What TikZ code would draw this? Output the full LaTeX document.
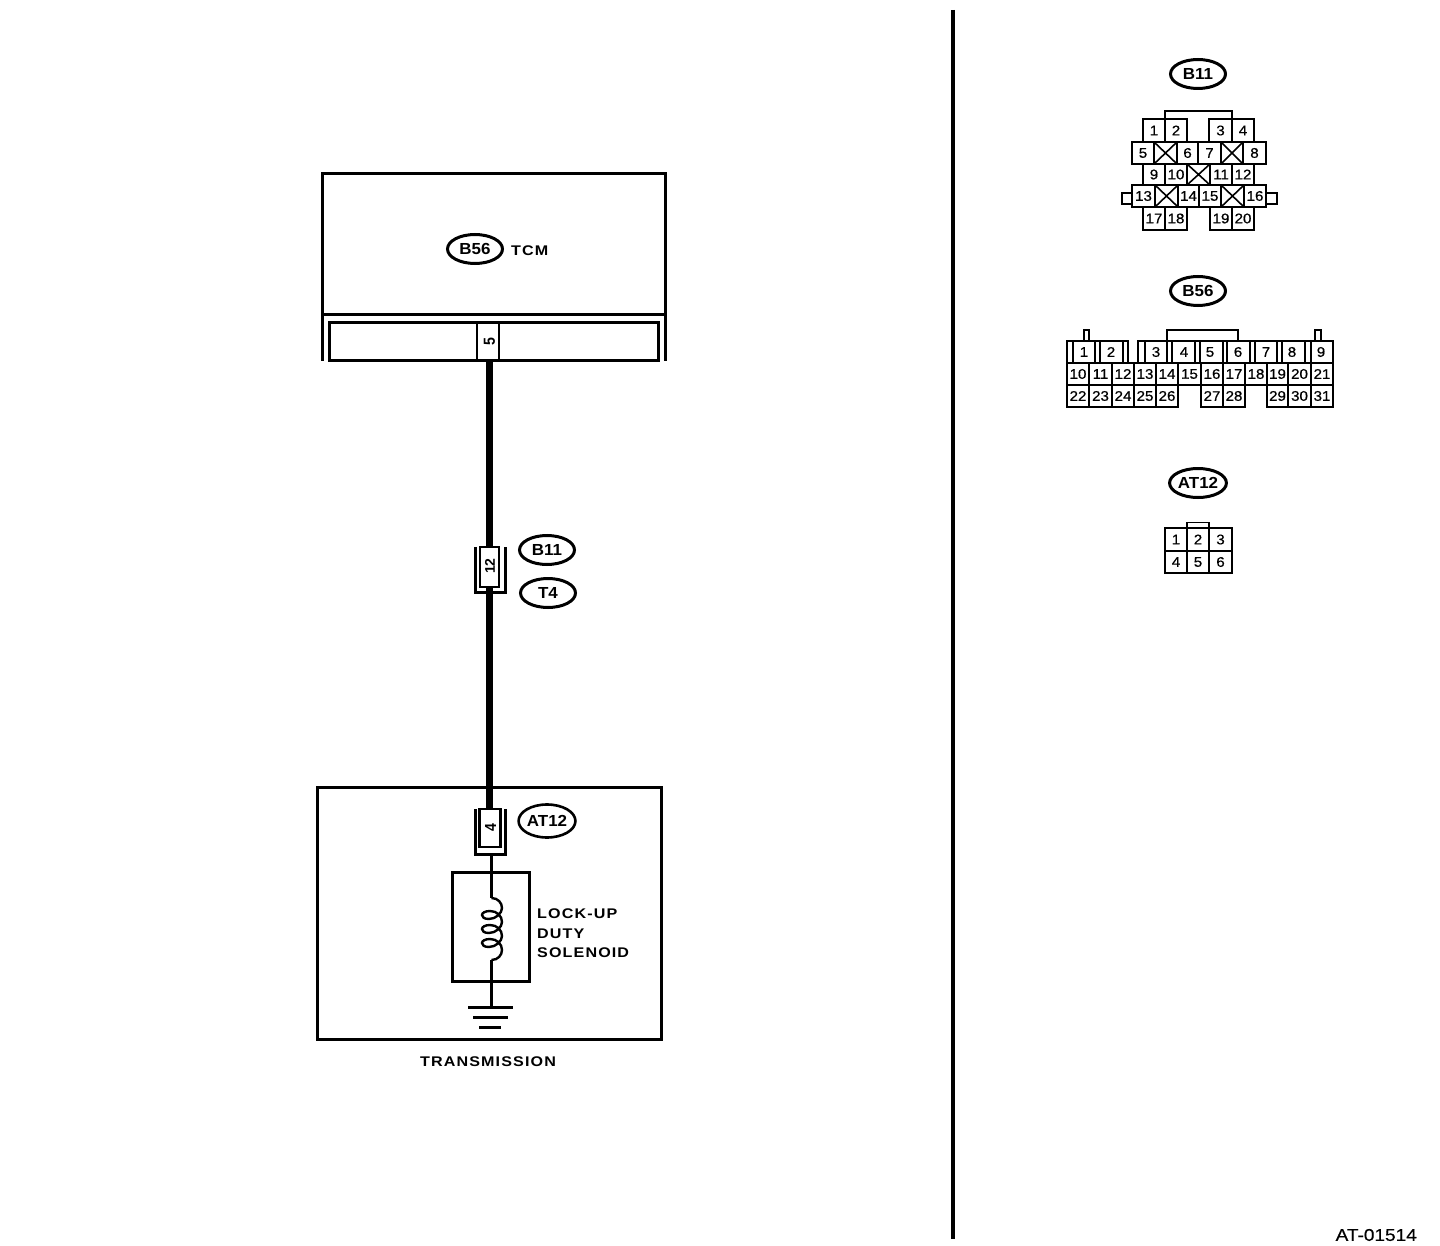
\documentclass[tikz,border=0pt]{standalone}
\usepackage{fontspec}
\usetikzlibrary{shapes.geometric}
\setmainfont{Liberation Sans}
\newfontfamily\spacedbold[LetterSpace=8,FakeStretch=1.15]{Liberation Sans Bold}
\newfontfamily\plainbold[FakeStretch=1.06]{Liberation Sans Bold}
\newfontfamily\pinfont[FakeStretch=0.88]{Liberation Sans Bold}
\newfontfamily\pinwide{Liberation Sans Bold}
\newfontfamily\numfont[FakeStretch=1.08,FakeBold=0.6]{Liberation Sans}
\newfontfamily\codefont[FakeStretch=1.12,FakeBold=0.5]{Liberation Sans}
\begin{document}
\begin{tikzpicture}[x=1pt,y=-1pt,
  heavy/.style={line width=3pt,line cap=butt},
  cellline/.style={line width=2.2pt},
  thinline/.style={line width=1.6pt},
  wirethick/.style={line width=7pt},
  wirethin/.style={line width=3pt},
  numtext/.style={inner sep=0pt,font=\numfont\fontsize{14}{14}\selectfont},
  pintext/.style={inner sep=0pt,font=\pinfont\fontsize{16}{16}\selectfont},
  pinbox/.style={draw,line width=2.6pt,inner sep=0pt,fill=white},
  tag/.style={draw,ellipse,line width=3pt,inner sep=0pt,minimum width=55pt,minimum height=29pt,font=\plainbold\fontsize{16}{16}\selectfont},
  caption/.style={inner sep=0pt,font=\spacedbold\fontsize{14}{19.5}\selectfont,align=left}
]
\newcommand{\cellrow}[4]{%
  \foreach \a/\b/\t in {#4}{%
    \draw[cellline] (\a,#2) rectangle (\b,#3);
    \node[numtext,name=#1\t] at ({(\a+\b)/2},{(#2+#3)/2}) {\t};
  }}
\newcommand{\crosscell}[4]{%
  \draw[cellline] (#1,#3) rectangle (#2,#4);
  \draw[thinline] (#1,#3) -- (#2,#4) (#1,#4) -- (#2,#3);}
\useasboundingbox (0,0) rectangle (1440,1246);
\fill[white] (0,0) rectangle (1440,1246);

% divider
\draw[line width=3.5pt] (953,10) -- (953,1239);

% named pins first, wires beneath their outlines
\node[pinbox,minimum width=22pt,minimum height=38.5pt] (tcm5) at (488,341.7) {};
\node[pinbox,minimum width=19pt,minimum height=40pt] (b11pin) at (489.5,567) {};
\node[pinbox,minimum width=21pt,minimum height=38pt] (at12pin) at (490,828) {};
\node[draw,line width=3pt,minimum width=77pt,minimum height=109pt,inner sep=0pt] (solbox) at (490.5,926.5) {};
\coordinate (coiltop) at (491.5,898);
\coordinate (coilbot) at (491.5,960);
\coordinate (gnd) at (491.5,1007);
\coordinate (pinout) at (491.5,855);
\draw[wirethick] (tcm5.south -| b11pin) -- (b11pin.north);
\draw[wirethick] (b11pin.south) -- (b11pin.south |- at12pin.north);
\draw[wirethin] (pinout) -- (coiltop);
\draw[wirethin] (coilbot) -- (gnd);

% TCM
\draw[heavy] (322,361) -- (322,173.5) -- (665,173.5) -- (665,361);
\draw[heavy] (322,315) -- (665,315);
\draw[heavy] (329.5,322.5) rectangle (658,361);
\node[pintext,rotate=90] at (489.5,341.7) {5};
\node[tag] (b56main) at (475,249) {B56};
\node[inner sep=0pt,font=\spacedbold\fontsize{14}{14}\selectfont,anchor=west] (tcmlabel) at (511,251) {TCM};

% Middle connector
\draw[heavy] (475,547) -- (475,592) -- (505,592) -- (505,547);
\node[inner sep=0pt,rotate=90,font=\pinwide\fontsize{14}{14}\selectfont] at (490,566) {12};
\node[tag] (b11main) at (547,550) {B11};
\node[tag] (t4main) at (548,593) {T4};

% Transmission
\draw[heavy] (317.5,787.5) rectangle (661,1039.5);
\draw[heavy] (475,809) -- (475,854.5) -- (505,854.5) -- (505,809);
\node[pintext,rotate=90] at (490.5,828) {4};
\node[tag,minimum width=56pt,minimum height=33pt,line width=2.6pt] (at12main) at (547,821) {AT12};
\node[caption,anchor=north west] (sollabel) at (537,909) {LOCK-UP\\DUTY\\SOLENOID};
\node[inner sep=0pt,font=\spacedbold\fontsize{14}{14}\selectfont] (translabel) at (488,1062) {TRANSMISSION};

% coil
\draw[line width=2.4pt] (coiltop)
  .. controls (498,898) and (502,903) .. (502,908)
  .. controls (502,913) and (496,919) .. (489,919)
  .. controls (484,919) and (482,917) .. (482,915)
  .. controls (482,913) and (485,911) .. (490,911)
  .. controls (497,911) and (502,916) .. (502,922)
  .. controls (502,927) and (496,933) .. (489,933)
  .. controls (484,933) and (482,931) .. (482,929)
  .. controls (482,927) and (485,925) .. (490,925)
  .. controls (497,925) and (502,930) .. (502,936)
  .. controls (502,941) and (496,947) .. (489,947)
  .. controls (484,947) and (482,945) .. (482,943)
  .. controls (482,941) and (485,939) .. (490,939)
  .. controls (497,939) and (502,944) .. (502,950)
  .. controls (502,955) and (498,960) .. (coilbot);
\draw[wirethin] (468,1007) -- (513,1007);
\draw[wirethin] (473,1017) -- (508,1017);
\draw[wirethin] (479,1027) -- (501,1027);

% B11 connector view
\node[tag] (b11view) at (1198,74) {B11};
\draw[thinline] (1165,119) -- (1165,111) -- (1232,111) -- (1232,119);
\cellrow{ba}{119}{142}{1143/1165/1,1165/1187/2,1209/1232/3,1232/1254/4}
\cellrow{ba}{142}{164}{1132/1154/5,1177/1198/6,1198/1221/7,1243/1266/8}
\crosscell{1154}{1177}{142}{164}
\crosscell{1221}{1243}{142}{164}
\cellrow{ba}{164}{185}{1143/1165/9,1165/1187/10,1210/1232/11,1232/1254/12}
\crosscell{1187}{1210}{164}{185}
\cellrow{ba}{185}{207}{1132/1155/13,1178/1199/14,1199/1221/15,1244/1266/16}
\crosscell{1155}{1178}{185}{207}
\crosscell{1221}{1244}{185}{207}
\cellrow{ba}{207}{230}{1143/1165/17,1165/1187/18,1210/1232/19,1232/1254/20}
\draw[thinline] (1132,193) -- (1122,193) -- (1122,204) -- (1132,204);
\draw[cellline] (1266,193) -- (1277,193) -- (1277,204) -- (1266,204);

% B56 connector view
\node[tag] (b56view) at (1198,291) {B56};
\draw[thinline] (1167,341) -- (1167,330) -- (1238,330) -- (1238,341);
\draw[thinline] (1084,341) -- (1084,330) -- (1089,330) -- (1089,341);
\draw[thinline] (1315,341) -- (1315,330) -- (1321,330) -- (1321,341);
\draw[cellline] (1067,363) -- (1067,341) -- (1128,341) -- (1128,363);
\draw[cellline] (1138,363) -- (1138,341) -- (1333,341) -- (1333,363);
\foreach \xx in {1073,1095,1100,1123,1145,1167,1172,1195,1200,1223,1227,1250,1255,1277,1282,1305,1311}
  \draw[thinline] (\xx,341) -- (\xx,363);
\foreach \cx/\t in {1084/1,1111/2,1156/3,1184/4,1210/5,1238/6,1266/7,1292/8,1321/9}
  \node[numtext,name=bbt\t] at (\cx,352) {\t};
\cellrow{bb}{363}{385}{1067/1089/10,1089/1112/11,1112/1134/12,1134/1156/13,1156/1178/14,1178/1201/15,1201/1223/16,1223/1245/17,1245/1267/18,1267/1288/19,1288/1311/20,1311/1333/21}
\cellrow{bb}{385}{407}{1067/1089/22,1089/1112/23,1112/1134/24,1134/1156/25,1156/1178/26,1201/1223/27,1223/1245/28,1267/1288/29,1288/1311/30,1311/1333/31}

% AT12 connector view
\node[tag] (at12view) at (1198,483) {AT12};
\draw[thinline] (1187,528) -- (1187,522.5) -- (1209,522.5) -- (1209,528);
\cellrow{ca}{528}{551}{1165/1187/1,1187/1209/2,1209/1232/3}
\cellrow{ca}{551}{573}{1165/1187/4,1187/1209/5,1209/1232/6}

\node[inner sep=0pt,font=\codefont\fontsize{17}{17}\selectfont,anchor=east] (code) at (1417,1235) {AT-01514};
\end{tikzpicture}
\end{document}
